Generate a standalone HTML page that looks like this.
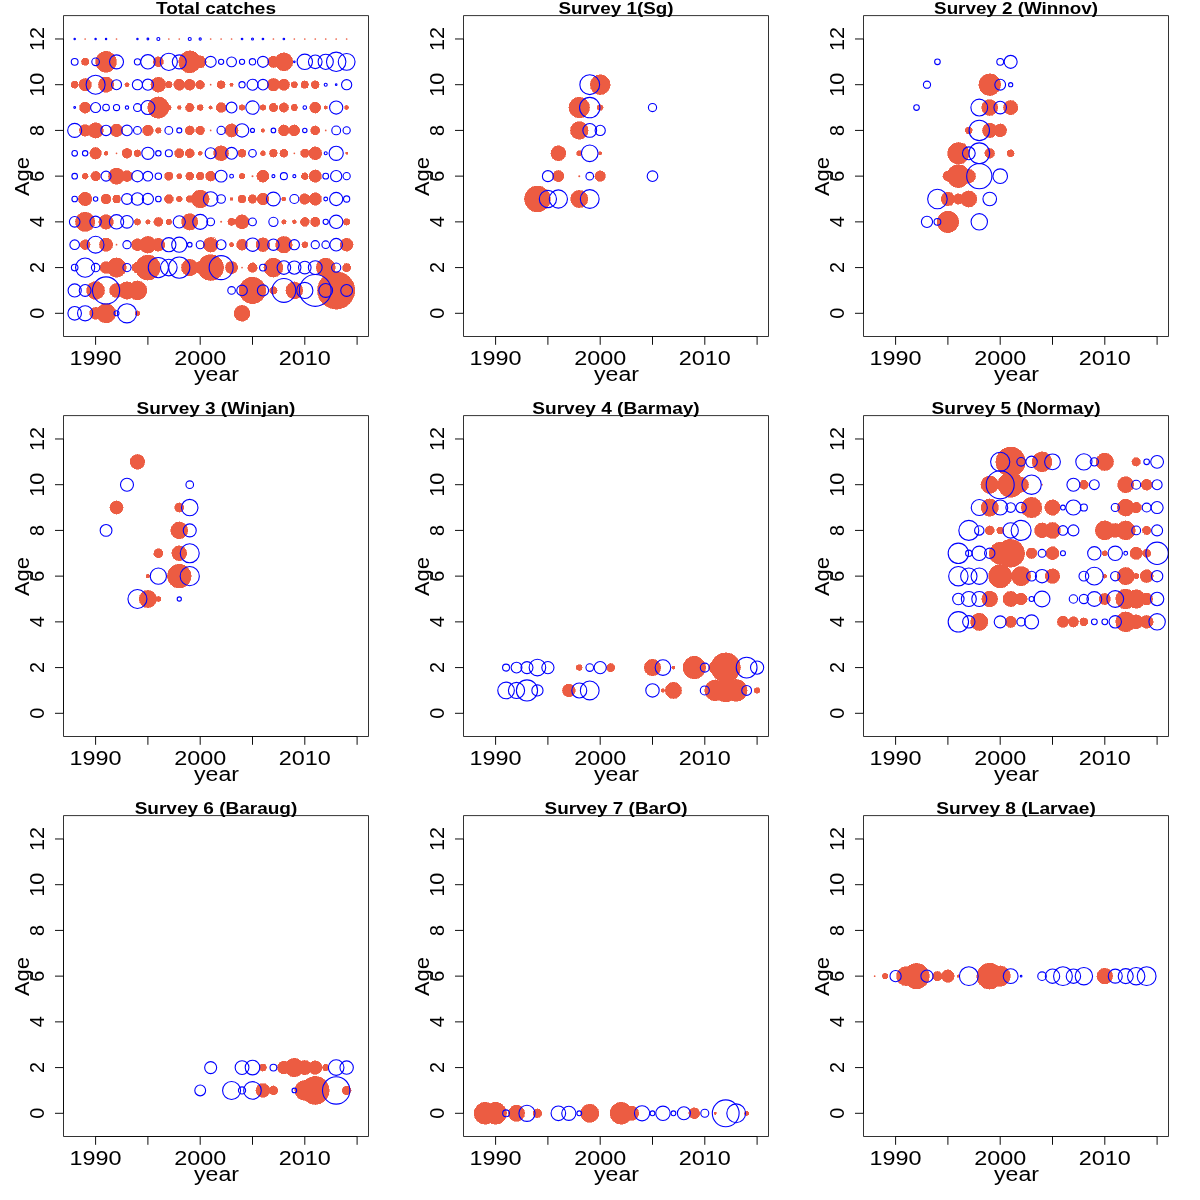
<!DOCTYPE html><html><head><meta charset="utf-8"><style>html,body{margin:0;padding:0;background:#fff;}svg{display:block;}text{font-family:"Liberation Sans",sans-serif;fill:#000;}svg{will-change:transform;}</style></head><body>
<svg width="1200" height="1200" viewBox="0 0 1200 1200">
<rect width="1200" height="1200" fill="#fff"/>
<g transform="translate(0,0)"><g fill="#EC5C42" stroke="#EC5C42" stroke-width="0.6" shape-rendering="crispEdges"><circle cx="85.14" cy="61.84" r="3.7"/><circle cx="106.06" cy="61.84" r="10.5"/><circle cx="158.36" cy="61.84" r="5"/><circle cx="189.74" cy="61.84" r="11"/><circle cx="200.2" cy="61.84" r="6"/><circle cx="273.42" cy="61.84" r="5.7"/><circle cx="283.88" cy="61.84" r="9"/><circle cx="74.68" cy="84.7" r="3.6"/><circle cx="85.14" cy="84.7" r="6.3"/><circle cx="106.06" cy="84.7" r="7.7"/><circle cx="126.98" cy="84.7" r="2.1"/><circle cx="158.36" cy="84.7" r="7.5"/><circle cx="168.82" cy="84.7" r="3.4"/><circle cx="179.28" cy="84.7" r="5.6"/><circle cx="189.74" cy="84.7" r="5.5"/><circle cx="200.2" cy="84.7" r="4.4"/><circle cx="221.12" cy="84.7" r="4"/><circle cx="231.58" cy="84.7" r="1.7"/><circle cx="273.42" cy="84.7" r="6.3"/><circle cx="283.88" cy="84.7" r="5.7"/><circle cx="294.34" cy="84.7" r="3.2"/><circle cx="304.8" cy="84.7" r="3.8"/><circle cx="315.26" cy="84.7" r="4"/><circle cx="85.14" cy="107.56" r="5.6"/><circle cx="158.36" cy="107.56" r="10.7"/><circle cx="168.82" cy="107.56" r="2.5"/><circle cx="179.28" cy="107.56" r="2"/><circle cx="189.74" cy="107.56" r="4.3"/><circle cx="200.2" cy="107.56" r="3"/><circle cx="210.66" cy="107.56" r="1.7"/><circle cx="221.12" cy="107.56" r="5"/><circle cx="242.04" cy="107.56" r="2.9"/><circle cx="262.96" cy="107.56" r="2.9"/><circle cx="273.42" cy="107.56" r="4.3"/><circle cx="283.88" cy="107.56" r="4.7"/><circle cx="294.34" cy="107.56" r="3.3"/><circle cx="315.26" cy="107.56" r="5.5"/><circle cx="325.72" cy="107.56" r="1.7"/><circle cx="346.64" cy="107.56" r="2.1"/><circle cx="85.14" cy="130.42" r="5.8"/><circle cx="95.6" cy="130.42" r="7.7"/><circle cx="116.52" cy="130.42" r="6.3"/><circle cx="147.9" cy="130.42" r="5.4"/><circle cx="158.36" cy="130.42" r="2.9"/><circle cx="189.74" cy="130.42" r="4.5"/><circle cx="200.2" cy="130.42" r="4.4"/><circle cx="231.58" cy="130.42" r="6.6"/><circle cx="262.96" cy="130.42" r="1.8"/><circle cx="283.88" cy="130.42" r="5.5"/><circle cx="294.34" cy="130.42" r="5.5"/><circle cx="315.26" cy="130.42" r="4.5"/><circle cx="95.6" cy="153.28" r="5.8"/><circle cx="106.06" cy="153.28" r="2"/><circle cx="126.98" cy="153.28" r="5"/><circle cx="137.44" cy="153.28" r="3.4"/><circle cx="179.28" cy="153.28" r="4.7"/><circle cx="189.74" cy="153.28" r="4.5"/><circle cx="200.2" cy="153.28" r="2.1"/><circle cx="221.12" cy="153.28" r="7.5"/><circle cx="242.04" cy="153.28" r="4"/><circle cx="262.96" cy="153.28" r="2.5"/><circle cx="273.42" cy="153.28" r="4"/><circle cx="283.88" cy="153.28" r="4"/><circle cx="304.8" cy="153.28" r="4.1"/><circle cx="315.26" cy="153.28" r="6.5"/><circle cx="346.64" cy="153.28" r="1.2"/><circle cx="85.14" cy="176.14" r="3"/><circle cx="95.6" cy="176.14" r="4.8"/><circle cx="116.52" cy="176.14" r="8.1"/><circle cx="126.98" cy="176.14" r="5.5"/><circle cx="168.82" cy="176.14" r="4.1"/><circle cx="179.28" cy="176.14" r="2.6"/><circle cx="189.74" cy="176.14" r="4"/><circle cx="200.2" cy="176.14" r="3.9"/><circle cx="210.66" cy="176.14" r="5"/><circle cx="242.04" cy="176.14" r="2.9"/><circle cx="262.96" cy="176.14" r="6.1"/><circle cx="304.8" cy="176.14" r="3.5"/><circle cx="315.26" cy="176.14" r="6.2"/><circle cx="85.14" cy="199" r="6.8"/><circle cx="106.06" cy="199" r="5"/><circle cx="116.52" cy="199" r="4"/><circle cx="168.82" cy="199" r="4.5"/><circle cx="179.28" cy="199" r="2.9"/><circle cx="189.74" cy="199" r="3.5"/><circle cx="200.2" cy="199" r="9"/><circle cx="231.58" cy="199" r="1.5"/><circle cx="242.04" cy="199" r="4"/><circle cx="252.5" cy="199" r="4.3"/><circle cx="262.96" cy="199" r="6"/><circle cx="283.88" cy="199" r="2.1"/><circle cx="304.8" cy="199" r="5.3"/><circle cx="315.26" cy="199" r="6.3"/><circle cx="85.14" cy="221.86" r="9.7"/><circle cx="106.06" cy="221.86" r="7.3"/><circle cx="137.44" cy="221.86" r="3.2"/><circle cx="147.9" cy="221.86" r="2.3"/><circle cx="158.36" cy="221.86" r="4.5"/><circle cx="168.82" cy="221.86" r="2.9"/><circle cx="189.74" cy="221.86" r="8.2"/><circle cx="231.58" cy="221.86" r="3.7"/><circle cx="242.04" cy="221.86" r="7"/><circle cx="283.88" cy="221.86" r="2.3"/><circle cx="294.34" cy="221.86" r="2"/><circle cx="304.8" cy="221.86" r="4.5"/><circle cx="315.26" cy="221.86" r="4.8"/><circle cx="346.64" cy="221.86" r="3.3"/><circle cx="85.14" cy="244.72" r="5"/><circle cx="106.06" cy="244.72" r="6.7"/><circle cx="137.44" cy="244.72" r="6"/><circle cx="147.9" cy="244.72" r="8.4"/><circle cx="158.36" cy="244.72" r="6.5"/><circle cx="210.66" cy="244.72" r="7.4"/><circle cx="231.58" cy="244.72" r="2.3"/><circle cx="242.04" cy="244.72" r="5.5"/><circle cx="262.96" cy="244.72" r="6.9"/><circle cx="283.88" cy="244.72" r="8.3"/><circle cx="304.8" cy="244.72" r="3"/><circle cx="346.64" cy="244.72" r="6.5"/><circle cx="106.06" cy="267.58" r="6"/><circle cx="116.52" cy="267.58" r="9.7"/><circle cx="137.44" cy="267.58" r="5.5"/><circle cx="147.9" cy="267.58" r="12.5"/><circle cx="189.74" cy="267.58" r="8.4"/><circle cx="200.2" cy="267.58" r="6"/><circle cx="210.66" cy="267.58" r="13"/><circle cx="231.58" cy="267.58" r="6.2"/><circle cx="252.5" cy="267.58" r="4.7"/><circle cx="273.42" cy="267.58" r="9.5"/><circle cx="325.72" cy="267.58" r="9.5"/><circle cx="346.64" cy="267.58" r="4.1"/><circle cx="95.6" cy="290.44" r="9"/><circle cx="116.52" cy="290.44" r="7"/><circle cx="126.98" cy="290.44" r="8.7"/><circle cx="137.44" cy="290.44" r="9.5"/><circle cx="252.5" cy="290.44" r="13.3"/><circle cx="273.42" cy="290.44" r="3.8"/><circle cx="294.34" cy="290.44" r="8.5"/><circle cx="336.18" cy="290.44" r="18.7"/><circle cx="95.6" cy="313.3" r="6"/><circle cx="106.06" cy="313.3" r="9.7"/><circle cx="137.44" cy="313.3" r="2.5"/><circle cx="242.04" cy="313.3" r="8"/></g><g fill="#EC5C42"><circle cx="85.14" cy="38.98" r="0.85"/><circle cx="116.52" cy="38.98" r="0.85"/><circle cx="168.82" cy="38.98" r="0.85"/><circle cx="179.28" cy="38.98" r="0.85"/><circle cx="210.66" cy="38.98" r="0.85"/><circle cx="221.12" cy="38.98" r="0.85"/><circle cx="231.58" cy="38.98" r="0.85"/><circle cx="273.42" cy="38.98" r="0.85"/><circle cx="294.34" cy="38.98" r="0.85"/><circle cx="304.8" cy="38.98" r="0.85"/><circle cx="315.26" cy="38.98" r="0.85"/><circle cx="325.72" cy="38.98" r="0.85"/><circle cx="336.18" cy="38.98" r="0.85"/><circle cx="346.64" cy="38.98" r="0.85"/><circle cx="210.66" cy="84.7" r="0.85"/><circle cx="210.66" cy="130.42" r="0.85"/><circle cx="325.72" cy="130.42" r="0.85"/><circle cx="116.52" cy="153.28" r="0.85"/><circle cx="294.34" cy="153.28" r="0.85"/><circle cx="252.5" cy="176.14" r="1"/><circle cx="221.12" cy="221.86" r="1"/><circle cx="116.52" cy="244.72" r="0.85"/><circle cx="242.04" cy="267.58" r="0.85"/></g><g fill="none" stroke="#0000FF" stroke-width="1.1"><circle cx="74.68" cy="38.98" r="0.7"/><circle cx="95.6" cy="38.98" r="0.7"/><circle cx="106.06" cy="38.98" r="0.7"/><circle cx="137.44" cy="38.98" r="0.7"/><circle cx="147.9" cy="38.98" r="0.9"/><circle cx="158.36" cy="38.98" r="1.5"/><circle cx="189.74" cy="38.98" r="1.5"/><circle cx="200.2" cy="38.98" r="1.1"/><circle cx="242.04" cy="38.98" r="0.8"/><circle cx="252.5" cy="38.98" r="1"/><circle cx="262.96" cy="38.98" r="0.8"/><circle cx="283.88" cy="38.98" r="0.8"/><circle cx="74.68" cy="61.84" r="3.4"/><circle cx="95.6" cy="61.84" r="3.8"/><circle cx="116.52" cy="61.84" r="7"/><circle cx="137.44" cy="61.84" r="3.1"/><circle cx="147.9" cy="61.84" r="7.2"/><circle cx="168.82" cy="61.84" r="8.6"/><circle cx="179.28" cy="61.84" r="7"/><circle cx="210.66" cy="61.84" r="5.5"/><circle cx="221.12" cy="61.84" r="2.6"/><circle cx="231.58" cy="61.84" r="4.9"/><circle cx="242.04" cy="61.84" r="2.6"/><circle cx="252.5" cy="61.84" r="3.2"/><circle cx="262.96" cy="61.84" r="5.5"/><circle cx="294.34" cy="61.84" r="0.8"/><circle cx="304.8" cy="61.84" r="7.7"/><circle cx="315.26" cy="61.84" r="6.8"/><circle cx="325.72" cy="61.84" r="7.6"/><circle cx="336.18" cy="61.84" r="9.7"/><circle cx="346.64" cy="61.84" r="8.4"/><circle cx="95.6" cy="84.7" r="9.5"/><circle cx="116.52" cy="84.7" r="5"/><circle cx="137.44" cy="84.7" r="5.1"/><circle cx="147.9" cy="84.7" r="5.6"/><circle cx="242.04" cy="84.7" r="3.1"/><circle cx="252.5" cy="84.7" r="5.5"/><circle cx="262.96" cy="84.7" r="5.3"/><circle cx="325.72" cy="84.7" r="1.5"/><circle cx="336.18" cy="84.7" r="0.8"/><circle cx="346.64" cy="84.7" r="5.1"/><circle cx="74.68" cy="107.56" r="0.9"/><circle cx="95.6" cy="107.56" r="5"/><circle cx="106.06" cy="107.56" r="3.3"/><circle cx="116.52" cy="107.56" r="3.1"/><circle cx="126.98" cy="107.56" r="1.7"/><circle cx="137.44" cy="107.56" r="3.9"/><circle cx="147.9" cy="107.56" r="7"/><circle cx="231.58" cy="107.56" r="5.4"/><circle cx="252.5" cy="107.56" r="6.7"/><circle cx="304.8" cy="107.56" r="1.8"/><circle cx="336.18" cy="107.56" r="6.6"/><circle cx="74.68" cy="130.42" r="7"/><circle cx="106.06" cy="130.42" r="5.2"/><circle cx="126.98" cy="130.42" r="5.3"/><circle cx="137.44" cy="130.42" r="3.9"/><circle cx="168.82" cy="130.42" r="3.9"/><circle cx="179.28" cy="130.42" r="2.5"/><circle cx="221.12" cy="130.42" r="4.1"/><circle cx="242.04" cy="130.42" r="6.7"/><circle cx="252.5" cy="130.42" r="2"/><circle cx="273.42" cy="130.42" r="2.3"/><circle cx="304.8" cy="130.42" r="2.2"/><circle cx="336.18" cy="130.42" r="4.4"/><circle cx="346.64" cy="130.42" r="3.6"/><circle cx="74.68" cy="153.28" r="2.8"/><circle cx="85.14" cy="153.28" r="2.7"/><circle cx="147.9" cy="153.28" r="6.1"/><circle cx="158.36" cy="153.28" r="2.7"/><circle cx="168.82" cy="153.28" r="3.5"/><circle cx="210.66" cy="153.28" r="5.5"/><circle cx="231.58" cy="153.28" r="5.9"/><circle cx="252.5" cy="153.28" r="3.8"/><circle cx="325.72" cy="153.28" r="1.5"/><circle cx="336.18" cy="153.28" r="7.1"/><circle cx="74.68" cy="176.14" r="2.8"/><circle cx="106.06" cy="176.14" r="5"/><circle cx="137.44" cy="176.14" r="5.7"/><circle cx="147.9" cy="176.14" r="4.8"/><circle cx="158.36" cy="176.14" r="3.2"/><circle cx="221.12" cy="176.14" r="5.9"/><circle cx="231.58" cy="176.14" r="1.9"/><circle cx="273.42" cy="176.14" r="1.5"/><circle cx="283.88" cy="176.14" r="3.5"/><circle cx="294.34" cy="176.14" r="1.5"/><circle cx="325.72" cy="176.14" r="2.9"/><circle cx="336.18" cy="176.14" r="5.6"/><circle cx="346.64" cy="176.14" r="3.6"/><circle cx="74.68" cy="199" r="2.8"/><circle cx="95.6" cy="199" r="2.2"/><circle cx="126.98" cy="199" r="5.4"/><circle cx="137.44" cy="199" r="6.2"/><circle cx="147.9" cy="199" r="5.6"/><circle cx="158.36" cy="199" r="2.8"/><circle cx="210.66" cy="199" r="7.3"/><circle cx="221.12" cy="199" r="4.3"/><circle cx="273.42" cy="199" r="6.9"/><circle cx="294.34" cy="199" r="4.5"/><circle cx="325.72" cy="199" r="1.9"/><circle cx="336.18" cy="199" r="6.6"/><circle cx="346.64" cy="199" r="3.1"/><circle cx="74.68" cy="221.86" r="5.3"/><circle cx="95.6" cy="221.86" r="5.7"/><circle cx="116.52" cy="221.86" r="7.2"/><circle cx="126.98" cy="221.86" r="6.3"/><circle cx="179.28" cy="221.86" r="6.1"/><circle cx="200.2" cy="221.86" r="7.5"/><circle cx="210.66" cy="221.86" r="3.9"/><circle cx="252.5" cy="221.86" r="3.9"/><circle cx="273.42" cy="221.86" r="4.6"/><circle cx="325.72" cy="221.86" r="2.6"/><circle cx="336.18" cy="221.86" r="6.7"/><circle cx="74.68" cy="244.72" r="4.8"/><circle cx="95.6" cy="244.72" r="8.4"/><circle cx="126.98" cy="244.72" r="4.1"/><circle cx="168.82" cy="244.72" r="7.1"/><circle cx="179.28" cy="244.72" r="7.6"/><circle cx="189.74" cy="244.72" r="2.3"/><circle cx="200.2" cy="244.72" r="4"/><circle cx="221.12" cy="244.72" r="4.9"/><circle cx="252.5" cy="244.72" r="6.7"/><circle cx="273.42" cy="244.72" r="5.7"/><circle cx="294.34" cy="244.72" r="5.1"/><circle cx="315.26" cy="244.72" r="4.1"/><circle cx="325.72" cy="244.72" r="3.8"/><circle cx="336.18" cy="244.72" r="6.3"/><circle cx="74.68" cy="267.58" r="3.3"/><circle cx="85.14" cy="267.58" r="9.6"/><circle cx="95.6" cy="267.58" r="4.2"/><circle cx="126.98" cy="267.58" r="4.1"/><circle cx="158.36" cy="267.58" r="10.1"/><circle cx="168.82" cy="267.58" r="8.3"/><circle cx="179.28" cy="267.58" r="10.6"/><circle cx="221.12" cy="267.58" r="12"/><circle cx="262.96" cy="267.58" r="3.4"/><circle cx="283.88" cy="267.58" r="6.8"/><circle cx="294.34" cy="267.58" r="6.6"/><circle cx="304.8" cy="267.58" r="6.3"/><circle cx="315.26" cy="267.58" r="6.9"/><circle cx="336.18" cy="267.58" r="4.6"/><circle cx="74.68" cy="290.44" r="6.6"/><circle cx="85.14" cy="290.44" r="5.9"/><circle cx="106.06" cy="290.44" r="13.6"/><circle cx="231.58" cy="290.44" r="3.8"/><circle cx="242.04" cy="290.44" r="5.3"/><circle cx="262.96" cy="290.44" r="5.6"/><circle cx="283.88" cy="290.44" r="11.9"/><circle cx="304.8" cy="290.44" r="8.1"/><circle cx="315.26" cy="290.44" r="15.9"/><circle cx="325.72" cy="290.44" r="6.9"/><circle cx="346.64" cy="290.44" r="5.9"/><circle cx="74.68" cy="313.3" r="6.8"/><circle cx="85.14" cy="313.3" r="7.6"/><circle cx="116.52" cy="313.3" r="2.5"/><circle cx="126.98" cy="313.3" r="9.6"/></g><rect x="63.5" y="15.6" width="305" height="320.9" fill="none" stroke="#000" stroke-opacity="0.8" stroke-width="1" stroke-linejoin="round"/><path d="M95.6 336.5H357.1M63.5 313.3V38.98" stroke="#000" stroke-opacity="0.8" stroke-width="1" fill="none"/><path d="M95.6 336.5V344.8M147.9 336.5V344.8M200.2 336.5V344.8M252.5 336.5V344.8M304.8 336.5V344.8M357.1 336.5V344.8M63.5 313.3H55M63.5 267.58H55M63.5 221.86H55M63.5 176.14H55M63.5 130.42H55M63.5 84.7H55M63.5 38.98H55" stroke="#000" stroke-opacity="0.94" stroke-width="1" fill="none"/><text x="95.6" y="365" font-size="20" text-anchor="middle" textLength="52" lengthAdjust="spacingAndGlyphs">1990</text><text x="200.2" y="365" font-size="20" text-anchor="middle" textLength="52" lengthAdjust="spacingAndGlyphs">2000</text><text x="304.8" y="365" font-size="20" text-anchor="middle" textLength="52" lengthAdjust="spacingAndGlyphs">2010</text><text x="216.5" y="380.7" font-size="20" text-anchor="middle" textLength="45" lengthAdjust="spacingAndGlyphs">year</text><text transform="translate(44.2,313.3) rotate(-90)" font-size="20" text-anchor="middle" textLength="11" lengthAdjust="spacingAndGlyphs">0</text><text transform="translate(44.2,267.58) rotate(-90)" font-size="20" text-anchor="middle" textLength="11" lengthAdjust="spacingAndGlyphs">2</text><text transform="translate(44.2,221.86) rotate(-90)" font-size="20" text-anchor="middle" textLength="11" lengthAdjust="spacingAndGlyphs">4</text><text transform="translate(44.2,176.14) rotate(-90)" font-size="20" text-anchor="middle" textLength="11" lengthAdjust="spacingAndGlyphs">6</text><text transform="translate(44.2,130.42) rotate(-90)" font-size="20" text-anchor="middle" textLength="11" lengthAdjust="spacingAndGlyphs">8</text><text transform="translate(44.2,84.7) rotate(-90)" font-size="20" text-anchor="middle" textLength="24" lengthAdjust="spacingAndGlyphs">10</text><text transform="translate(44.2,38.98) rotate(-90)" font-size="20" text-anchor="middle" textLength="24" lengthAdjust="spacingAndGlyphs">12</text><text transform="translate(28.9,176.6) rotate(-90)" font-size="20" text-anchor="middle" textLength="39" lengthAdjust="spacingAndGlyphs">Age</text><text x="216" y="13.5" font-size="16" font-weight="bold" text-anchor="middle" textLength="120" lengthAdjust="spacingAndGlyphs">Total catches</text></g>
<g transform="translate(400,0)"><g fill="#EC5C42" stroke="#EC5C42" stroke-width="0.6" shape-rendering="crispEdges"><circle cx="200.2" cy="84.7" r="10"/><circle cx="179.28" cy="107.56" r="10.4"/><circle cx="200.2" cy="107.56" r="2.9"/><circle cx="179.28" cy="130.42" r="8.9"/><circle cx="158.36" cy="153.28" r="7.5"/><circle cx="179.28" cy="153.28" r="2.7"/><circle cx="200.2" cy="153.28" r="1.7"/><circle cx="158.36" cy="176.14" r="5.7"/><circle cx="200.2" cy="176.14" r="5.3"/><circle cx="137.44" cy="199" r="13"/><circle cx="179.28" cy="199" r="8.7"/></g><g fill="#EC5C42"><circle cx="179.28" cy="176.14" r="1"/></g><g fill="none" stroke="#0000FF" stroke-width="1.1"><circle cx="189.74" cy="84.7" r="9.9"/><circle cx="189.74" cy="107.56" r="10.2"/><circle cx="252.5" cy="107.56" r="4.1"/><circle cx="189.74" cy="130.42" r="6.9"/><circle cx="200.2" cy="130.42" r="5.1"/><circle cx="189.74" cy="153.28" r="8.3"/><circle cx="147.9" cy="176.14" r="5.5"/><circle cx="189.74" cy="176.14" r="3.8"/><circle cx="252.5" cy="176.14" r="5.3"/><circle cx="147.9" cy="199" r="8.6"/><circle cx="158.36" cy="199" r="9.1"/><circle cx="189.74" cy="199" r="9.4"/></g><rect x="63.5" y="15.6" width="305" height="320.9" fill="none" stroke="#000" stroke-opacity="0.8" stroke-width="1" stroke-linejoin="round"/><path d="M95.6 336.5H357.1M63.5 313.3V38.98" stroke="#000" stroke-opacity="0.8" stroke-width="1" fill="none"/><path d="M95.6 336.5V344.8M147.9 336.5V344.8M200.2 336.5V344.8M252.5 336.5V344.8M304.8 336.5V344.8M357.1 336.5V344.8M63.5 313.3H55M63.5 267.58H55M63.5 221.86H55M63.5 176.14H55M63.5 130.42H55M63.5 84.7H55M63.5 38.98H55" stroke="#000" stroke-opacity="0.94" stroke-width="1" fill="none"/><text x="95.6" y="365" font-size="20" text-anchor="middle" textLength="52" lengthAdjust="spacingAndGlyphs">1990</text><text x="200.2" y="365" font-size="20" text-anchor="middle" textLength="52" lengthAdjust="spacingAndGlyphs">2000</text><text x="304.8" y="365" font-size="20" text-anchor="middle" textLength="52" lengthAdjust="spacingAndGlyphs">2010</text><text x="216.5" y="380.7" font-size="20" text-anchor="middle" textLength="45" lengthAdjust="spacingAndGlyphs">year</text><text transform="translate(44.2,313.3) rotate(-90)" font-size="20" text-anchor="middle" textLength="11" lengthAdjust="spacingAndGlyphs">0</text><text transform="translate(44.2,267.58) rotate(-90)" font-size="20" text-anchor="middle" textLength="11" lengthAdjust="spacingAndGlyphs">2</text><text transform="translate(44.2,221.86) rotate(-90)" font-size="20" text-anchor="middle" textLength="11" lengthAdjust="spacingAndGlyphs">4</text><text transform="translate(44.2,176.14) rotate(-90)" font-size="20" text-anchor="middle" textLength="11" lengthAdjust="spacingAndGlyphs">6</text><text transform="translate(44.2,130.42) rotate(-90)" font-size="20" text-anchor="middle" textLength="11" lengthAdjust="spacingAndGlyphs">8</text><text transform="translate(44.2,84.7) rotate(-90)" font-size="20" text-anchor="middle" textLength="24" lengthAdjust="spacingAndGlyphs">10</text><text transform="translate(44.2,38.98) rotate(-90)" font-size="20" text-anchor="middle" textLength="24" lengthAdjust="spacingAndGlyphs">12</text><text transform="translate(28.9,176.6) rotate(-90)" font-size="20" text-anchor="middle" textLength="39" lengthAdjust="spacingAndGlyphs">Age</text><text x="216" y="13.5" font-size="16" font-weight="bold" text-anchor="middle" textLength="115" lengthAdjust="spacingAndGlyphs">Survey 1(Sg)</text></g>
<g transform="translate(800,0)"><g fill="#EC5C42" stroke="#EC5C42" stroke-width="0.6" shape-rendering="crispEdges"><circle cx="189.74" cy="84.7" r="10.9"/><circle cx="189.74" cy="107.56" r="8"/><circle cx="210.66" cy="107.56" r="7.2"/><circle cx="168.82" cy="130.42" r="3.5"/><circle cx="189.74" cy="130.42" r="7.3"/><circle cx="200.2" cy="130.42" r="6.5"/><circle cx="158.36" cy="153.28" r="10.8"/><circle cx="189.74" cy="153.28" r="4.9"/><circle cx="210.66" cy="153.28" r="3.6"/><circle cx="147.9" cy="176.14" r="5"/><circle cx="158.36" cy="176.14" r="11.5"/><circle cx="168.82" cy="176.14" r="6.8"/><circle cx="147.9" cy="199" r="6.8"/><circle cx="158.36" cy="199" r="5.2"/><circle cx="168.82" cy="199" r="8.1"/><circle cx="147.9" cy="221.86" r="10.8"/></g><g fill="#EC5C42"></g><g fill="none" stroke="#0000FF" stroke-width="1.1"><circle cx="137.44" cy="61.84" r="2.8"/><circle cx="200.2" cy="61.84" r="3.4"/><circle cx="210.66" cy="61.84" r="6.5"/><circle cx="126.98" cy="84.7" r="3.6"/><circle cx="200.2" cy="84.7" r="5.4"/><circle cx="210.66" cy="84.7" r="2.1"/><circle cx="116.52" cy="107.56" r="2.8"/><circle cx="179.28" cy="107.56" r="8.4"/><circle cx="200.2" cy="107.56" r="6.3"/><circle cx="179.28" cy="130.42" r="10.2"/><circle cx="168.82" cy="153.28" r="6.4"/><circle cx="179.28" cy="153.28" r="10.4"/><circle cx="179.28" cy="176.14" r="12.6"/><circle cx="200.2" cy="176.14" r="7.3"/><circle cx="137.44" cy="199" r="9.8"/><circle cx="189.74" cy="199" r="6.8"/><circle cx="126.98" cy="221.86" r="5.6"/><circle cx="137.44" cy="221.86" r="3.4"/><circle cx="179.28" cy="221.86" r="8.2"/></g><rect x="63.5" y="15.6" width="305" height="320.9" fill="none" stroke="#000" stroke-opacity="0.8" stroke-width="1" stroke-linejoin="round"/><path d="M95.6 336.5H357.1M63.5 313.3V38.98" stroke="#000" stroke-opacity="0.8" stroke-width="1" fill="none"/><path d="M95.6 336.5V344.8M147.9 336.5V344.8M200.2 336.5V344.8M252.5 336.5V344.8M304.8 336.5V344.8M357.1 336.5V344.8M63.5 313.3H55M63.5 267.58H55M63.5 221.86H55M63.5 176.14H55M63.5 130.42H55M63.5 84.7H55M63.5 38.98H55" stroke="#000" stroke-opacity="0.94" stroke-width="1" fill="none"/><text x="95.6" y="365" font-size="20" text-anchor="middle" textLength="52" lengthAdjust="spacingAndGlyphs">1990</text><text x="200.2" y="365" font-size="20" text-anchor="middle" textLength="52" lengthAdjust="spacingAndGlyphs">2000</text><text x="304.8" y="365" font-size="20" text-anchor="middle" textLength="52" lengthAdjust="spacingAndGlyphs">2010</text><text x="216.5" y="380.7" font-size="20" text-anchor="middle" textLength="45" lengthAdjust="spacingAndGlyphs">year</text><text transform="translate(44.2,313.3) rotate(-90)" font-size="20" text-anchor="middle" textLength="11" lengthAdjust="spacingAndGlyphs">0</text><text transform="translate(44.2,267.58) rotate(-90)" font-size="20" text-anchor="middle" textLength="11" lengthAdjust="spacingAndGlyphs">2</text><text transform="translate(44.2,221.86) rotate(-90)" font-size="20" text-anchor="middle" textLength="11" lengthAdjust="spacingAndGlyphs">4</text><text transform="translate(44.2,176.14) rotate(-90)" font-size="20" text-anchor="middle" textLength="11" lengthAdjust="spacingAndGlyphs">6</text><text transform="translate(44.2,130.42) rotate(-90)" font-size="20" text-anchor="middle" textLength="11" lengthAdjust="spacingAndGlyphs">8</text><text transform="translate(44.2,84.7) rotate(-90)" font-size="20" text-anchor="middle" textLength="24" lengthAdjust="spacingAndGlyphs">10</text><text transform="translate(44.2,38.98) rotate(-90)" font-size="20" text-anchor="middle" textLength="24" lengthAdjust="spacingAndGlyphs">12</text><text transform="translate(28.9,176.6) rotate(-90)" font-size="20" text-anchor="middle" textLength="39" lengthAdjust="spacingAndGlyphs">Age</text><text x="216" y="13.5" font-size="16" font-weight="bold" text-anchor="middle" textLength="163.8" lengthAdjust="spacingAndGlyphs">Survey 2 (Winnov)</text></g>
<g transform="translate(0,400)"><g fill="#EC5C42" stroke="#EC5C42" stroke-width="0.6" shape-rendering="crispEdges"><circle cx="137.44" cy="61.84" r="7.4"/><circle cx="116.52" cy="107.56" r="6.6"/><circle cx="179.28" cy="107.56" r="4.6"/><circle cx="179.28" cy="130.42" r="8.5"/><circle cx="158.36" cy="153.28" r="4.6"/><circle cx="179.28" cy="153.28" r="7.5"/><circle cx="147.9" cy="176.14" r="2"/><circle cx="179.28" cy="176.14" r="11.9"/><circle cx="147.9" cy="199" r="8.7"/><circle cx="158.36" cy="199" r="2.6"/></g><g fill="#EC5C42"></g><g fill="none" stroke="#0000FF" stroke-width="1.1"><circle cx="126.98" cy="84.7" r="6.5"/><circle cx="189.74" cy="84.7" r="3.8"/><circle cx="189.74" cy="107.56" r="8.2"/><circle cx="106.06" cy="130.42" r="5.9"/><circle cx="189.74" cy="130.42" r="6.5"/><circle cx="189.74" cy="153.28" r="9.5"/><circle cx="158.36" cy="176.14" r="8.1"/><circle cx="189.74" cy="176.14" r="9.6"/><circle cx="137.44" cy="199" r="9.5"/><circle cx="179.28" cy="199" r="2.1"/></g><rect x="63.5" y="15.6" width="305" height="320.9" fill="none" stroke="#000" stroke-opacity="0.8" stroke-width="1" stroke-linejoin="round"/><path d="M95.6 336.5H357.1M63.5 313.3V38.98" stroke="#000" stroke-opacity="0.8" stroke-width="1" fill="none"/><path d="M95.6 336.5V344.8M147.9 336.5V344.8M200.2 336.5V344.8M252.5 336.5V344.8M304.8 336.5V344.8M357.1 336.5V344.8M63.5 313.3H55M63.5 267.58H55M63.5 221.86H55M63.5 176.14H55M63.5 130.42H55M63.5 84.7H55M63.5 38.98H55" stroke="#000" stroke-opacity="0.94" stroke-width="1" fill="none"/><text x="95.6" y="365" font-size="20" text-anchor="middle" textLength="52" lengthAdjust="spacingAndGlyphs">1990</text><text x="200.2" y="365" font-size="20" text-anchor="middle" textLength="52" lengthAdjust="spacingAndGlyphs">2000</text><text x="304.8" y="365" font-size="20" text-anchor="middle" textLength="52" lengthAdjust="spacingAndGlyphs">2010</text><text x="216.5" y="380.7" font-size="20" text-anchor="middle" textLength="45" lengthAdjust="spacingAndGlyphs">year</text><text transform="translate(44.2,313.3) rotate(-90)" font-size="20" text-anchor="middle" textLength="11" lengthAdjust="spacingAndGlyphs">0</text><text transform="translate(44.2,267.58) rotate(-90)" font-size="20" text-anchor="middle" textLength="11" lengthAdjust="spacingAndGlyphs">2</text><text transform="translate(44.2,221.86) rotate(-90)" font-size="20" text-anchor="middle" textLength="11" lengthAdjust="spacingAndGlyphs">4</text><text transform="translate(44.2,176.14) rotate(-90)" font-size="20" text-anchor="middle" textLength="11" lengthAdjust="spacingAndGlyphs">6</text><text transform="translate(44.2,130.42) rotate(-90)" font-size="20" text-anchor="middle" textLength="11" lengthAdjust="spacingAndGlyphs">8</text><text transform="translate(44.2,84.7) rotate(-90)" font-size="20" text-anchor="middle" textLength="24" lengthAdjust="spacingAndGlyphs">10</text><text transform="translate(44.2,38.98) rotate(-90)" font-size="20" text-anchor="middle" textLength="24" lengthAdjust="spacingAndGlyphs">12</text><text transform="translate(28.9,176.6) rotate(-90)" font-size="20" text-anchor="middle" textLength="39" lengthAdjust="spacingAndGlyphs">Age</text><text x="216" y="13.5" font-size="16" font-weight="bold" text-anchor="middle" textLength="158.8" lengthAdjust="spacingAndGlyphs">Survey 3 (Winjan)</text></g>
<g transform="translate(400,400)"><g fill="#EC5C42" stroke="#EC5C42" stroke-width="0.6" shape-rendering="crispEdges"><circle cx="179.28" cy="267.58" r="3"/><circle cx="210.66" cy="267.58" r="4.2"/><circle cx="252.5" cy="267.58" r="8.3"/><circle cx="273.42" cy="267.58" r="1.5"/><circle cx="294.34" cy="267.58" r="11.3"/><circle cx="315.26" cy="267.58" r="6.5"/><circle cx="325.72" cy="267.58" r="14.8"/><circle cx="168.82" cy="290.44" r="6.4"/><circle cx="262.96" cy="290.44" r="1.8"/><circle cx="273.42" cy="290.44" r="8.2"/><circle cx="315.26" cy="290.44" r="10.5"/><circle cx="325.72" cy="290.44" r="11.5"/><circle cx="336.18" cy="290.44" r="11"/><circle cx="357.1" cy="290.44" r="2.9"/></g><g fill="#EC5C42"></g><g fill="none" stroke="#0000FF" stroke-width="1.1"><circle cx="106.06" cy="267.58" r="3.5"/><circle cx="116.52" cy="267.58" r="5.4"/><circle cx="126.98" cy="267.58" r="6"/><circle cx="137.44" cy="267.58" r="8.3"/><circle cx="147.9" cy="267.58" r="6.1"/><circle cx="189.74" cy="267.58" r="3.8"/><circle cx="200.2" cy="267.58" r="6.1"/><circle cx="262.96" cy="267.58" r="7.8"/><circle cx="304.8" cy="267.58" r="4.5"/><circle cx="346.64" cy="267.58" r="10.4"/><circle cx="357.1" cy="267.58" r="6.6"/><circle cx="106.06" cy="290.44" r="8.3"/><circle cx="116.52" cy="290.44" r="8.1"/><circle cx="126.98" cy="290.44" r="10.6"/><circle cx="137.44" cy="290.44" r="5.6"/><circle cx="179.28" cy="290.44" r="7.5"/><circle cx="189.74" cy="290.44" r="9.4"/><circle cx="252.5" cy="290.44" r="6.7"/><circle cx="304.8" cy="290.44" r="4.5"/><circle cx="346.64" cy="290.44" r="4.9"/></g><rect x="63.5" y="15.6" width="305" height="320.9" fill="none" stroke="#000" stroke-opacity="0.8" stroke-width="1" stroke-linejoin="round"/><path d="M95.6 336.5H357.1M63.5 313.3V38.98" stroke="#000" stroke-opacity="0.8" stroke-width="1" fill="none"/><path d="M95.6 336.5V344.8M147.9 336.5V344.8M200.2 336.5V344.8M252.5 336.5V344.8M304.8 336.5V344.8M357.1 336.5V344.8M63.5 313.3H55M63.5 267.58H55M63.5 221.86H55M63.5 176.14H55M63.5 130.42H55M63.5 84.7H55M63.5 38.98H55" stroke="#000" stroke-opacity="0.94" stroke-width="1" fill="none"/><text x="95.6" y="365" font-size="20" text-anchor="middle" textLength="52" lengthAdjust="spacingAndGlyphs">1990</text><text x="200.2" y="365" font-size="20" text-anchor="middle" textLength="52" lengthAdjust="spacingAndGlyphs">2000</text><text x="304.8" y="365" font-size="20" text-anchor="middle" textLength="52" lengthAdjust="spacingAndGlyphs">2010</text><text x="216.5" y="380.7" font-size="20" text-anchor="middle" textLength="45" lengthAdjust="spacingAndGlyphs">year</text><text transform="translate(44.2,313.3) rotate(-90)" font-size="20" text-anchor="middle" textLength="11" lengthAdjust="spacingAndGlyphs">0</text><text transform="translate(44.2,267.58) rotate(-90)" font-size="20" text-anchor="middle" textLength="11" lengthAdjust="spacingAndGlyphs">2</text><text transform="translate(44.2,221.86) rotate(-90)" font-size="20" text-anchor="middle" textLength="11" lengthAdjust="spacingAndGlyphs">4</text><text transform="translate(44.2,176.14) rotate(-90)" font-size="20" text-anchor="middle" textLength="11" lengthAdjust="spacingAndGlyphs">6</text><text transform="translate(44.2,130.42) rotate(-90)" font-size="20" text-anchor="middle" textLength="11" lengthAdjust="spacingAndGlyphs">8</text><text transform="translate(44.2,84.7) rotate(-90)" font-size="20" text-anchor="middle" textLength="24" lengthAdjust="spacingAndGlyphs">10</text><text transform="translate(44.2,38.98) rotate(-90)" font-size="20" text-anchor="middle" textLength="24" lengthAdjust="spacingAndGlyphs">12</text><text transform="translate(28.9,176.6) rotate(-90)" font-size="20" text-anchor="middle" textLength="39" lengthAdjust="spacingAndGlyphs">Age</text><text x="216" y="13.5" font-size="16" font-weight="bold" text-anchor="middle" textLength="167.4" lengthAdjust="spacingAndGlyphs">Survey 4 (Barmay)</text></g>
<g transform="translate(800,400)"><g fill="#EC5C42" stroke="#EC5C42" stroke-width="0.6" shape-rendering="crispEdges"><circle cx="210.66" cy="61.84" r="14.8"/><circle cx="242.04" cy="61.84" r="10"/><circle cx="304.8" cy="61.84" r="8.8"/><circle cx="336.18" cy="61.84" r="4.3"/><circle cx="189.74" cy="84.7" r="8.8"/><circle cx="210.66" cy="84.7" r="12.8"/><circle cx="221.12" cy="84.7" r="7.5"/><circle cx="283.88" cy="84.7" r="4.5"/><circle cx="325.72" cy="84.7" r="8.1"/><circle cx="346.64" cy="84.7" r="5.5"/><circle cx="189.74" cy="107.56" r="8.7"/><circle cx="231.58" cy="107.56" r="10.3"/><circle cx="252.5" cy="107.56" r="7.7"/><circle cx="325.72" cy="107.56" r="8.5"/><circle cx="336.18" cy="107.56" r="5.3"/><circle cx="189.74" cy="130.42" r="4.5"/><circle cx="200.2" cy="130.42" r="3.5"/><circle cx="242.04" cy="130.42" r="7.5"/><circle cx="252.5" cy="130.42" r="8"/><circle cx="304.8" cy="130.42" r="9.6"/><circle cx="315.26" cy="130.42" r="7"/><circle cx="325.72" cy="130.42" r="9.5"/><circle cx="346.64" cy="130.42" r="4.3"/><circle cx="200.2" cy="153.28" r="11"/><circle cx="210.66" cy="153.28" r="14"/><circle cx="231.58" cy="153.28" r="5.4"/><circle cx="252.5" cy="153.28" r="6.5"/><circle cx="304.8" cy="153.28" r="2.7"/><circle cx="336.18" cy="153.28" r="6.2"/><circle cx="346.64" cy="153.28" r="4.2"/><circle cx="200.2" cy="176.14" r="11.7"/><circle cx="221.12" cy="176.14" r="9.7"/><circle cx="252.5" cy="176.14" r="7.3"/><circle cx="304.8" cy="176.14" r="2"/><circle cx="325.72" cy="176.14" r="8.7"/><circle cx="336.18" cy="176.14" r="2.8"/><circle cx="346.64" cy="176.14" r="6.5"/><circle cx="189.74" cy="199" r="8"/><circle cx="210.66" cy="199" r="7.7"/><circle cx="221.12" cy="199" r="6"/><circle cx="304.8" cy="199" r="5.7"/><circle cx="325.72" cy="199" r="10"/><circle cx="336.18" cy="199" r="9.3"/><circle cx="346.64" cy="199" r="6"/><circle cx="179.28" cy="221.86" r="8.7"/><circle cx="210.66" cy="221.86" r="5.7"/><circle cx="262.96" cy="221.86" r="5.7"/><circle cx="273.42" cy="221.86" r="5.2"/><circle cx="283.88" cy="221.86" r="4"/><circle cx="325.72" cy="221.86" r="10"/><circle cx="336.18" cy="221.86" r="7"/><circle cx="346.64" cy="221.86" r="6.5"/></g><g fill="#EC5C42"><circle cx="242.04" cy="84.7" r="0.85"/></g><g fill="none" stroke="#0000FF" stroke-width="1.1"><circle cx="200.2" cy="61.84" r="9.6"/><circle cx="221.12" cy="61.84" r="4.3"/><circle cx="231.58" cy="61.84" r="5.7"/><circle cx="252.5" cy="61.84" r="7.9"/><circle cx="283.88" cy="61.84" r="8.1"/><circle cx="294.34" cy="61.84" r="4.1"/><circle cx="346.64" cy="61.84" r="2.8"/><circle cx="357.1" cy="61.84" r="6.4"/><circle cx="200.2" cy="84.7" r="14"/><circle cx="231.58" cy="84.7" r="9.7"/><circle cx="273.42" cy="84.7" r="6.5"/><circle cx="294.34" cy="84.7" r="4.9"/><circle cx="336.18" cy="84.7" r="4.5"/><circle cx="357.1" cy="84.7" r="5"/><circle cx="179.28" cy="107.56" r="8"/><circle cx="200.2" cy="107.56" r="7.5"/><circle cx="210.66" cy="107.56" r="4.8"/><circle cx="221.12" cy="107.56" r="5.2"/><circle cx="262.96" cy="107.56" r="2.4"/><circle cx="273.42" cy="107.56" r="7.5"/><circle cx="283.88" cy="107.56" r="3.5"/><circle cx="315.26" cy="107.56" r="4"/><circle cx="346.64" cy="107.56" r="4.4"/><circle cx="357.1" cy="107.56" r="6"/><circle cx="168.82" cy="130.42" r="10"/><circle cx="179.28" cy="130.42" r="4.7"/><circle cx="210.66" cy="130.42" r="7.7"/><circle cx="221.12" cy="130.42" r="10"/><circle cx="262.96" cy="130.42" r="4.8"/><circle cx="273.42" cy="130.42" r="5.5"/><circle cx="336.18" cy="130.42" r="4.4"/><circle cx="357.1" cy="130.42" r="5.5"/><circle cx="158.36" cy="153.28" r="10.2"/><circle cx="168.82" cy="153.28" r="3.2"/><circle cx="179.28" cy="153.28" r="7.2"/><circle cx="189.74" cy="153.28" r="5.2"/><circle cx="242.04" cy="153.28" r="3.9"/><circle cx="262.96" cy="153.28" r="2.5"/><circle cx="294.34" cy="153.28" r="6.7"/><circle cx="315.26" cy="153.28" r="7.2"/><circle cx="325.72" cy="153.28" r="1.9"/><circle cx="357.1" cy="153.28" r="11.2"/><circle cx="158.36" cy="176.14" r="9.7"/><circle cx="168.82" cy="176.14" r="8.2"/><circle cx="179.28" cy="176.14" r="8.2"/><circle cx="231.58" cy="176.14" r="4.9"/><circle cx="242.04" cy="176.14" r="6.7"/><circle cx="283.88" cy="176.14" r="4.9"/><circle cx="294.34" cy="176.14" r="8.9"/><circle cx="315.26" cy="176.14" r="4.7"/><circle cx="357.1" cy="176.14" r="5.7"/><circle cx="158.36" cy="199" r="5.7"/><circle cx="168.82" cy="199" r="7.5"/><circle cx="179.28" cy="199" r="7.5"/><circle cx="231.58" cy="199" r="2.5"/><circle cx="242.04" cy="199" r="7.9"/><circle cx="273.42" cy="199" r="4.2"/><circle cx="283.88" cy="199" r="4.6"/><circle cx="294.34" cy="199" r="7.4"/><circle cx="315.26" cy="199" r="8.4"/><circle cx="357.1" cy="199" r="6.7"/><circle cx="158.36" cy="221.86" r="10.2"/><circle cx="168.82" cy="221.86" r="6.2"/><circle cx="200.2" cy="221.86" r="6"/><circle cx="221.12" cy="221.86" r="4.2"/><circle cx="231.58" cy="221.86" r="7"/><circle cx="294.34" cy="221.86" r="2.9"/><circle cx="304.8" cy="221.86" r="2.9"/><circle cx="315.26" cy="221.86" r="6.2"/><circle cx="357.1" cy="221.86" r="8.2"/></g><rect x="63.5" y="15.6" width="305" height="320.9" fill="none" stroke="#000" stroke-opacity="0.8" stroke-width="1" stroke-linejoin="round"/><path d="M95.6 336.5H357.1M63.5 313.3V38.98" stroke="#000" stroke-opacity="0.8" stroke-width="1" fill="none"/><path d="M95.6 336.5V344.8M147.9 336.5V344.8M200.2 336.5V344.8M252.5 336.5V344.8M304.8 336.5V344.8M357.1 336.5V344.8M63.5 313.3H55M63.5 267.58H55M63.5 221.86H55M63.5 176.14H55M63.5 130.42H55M63.5 84.7H55M63.5 38.98H55" stroke="#000" stroke-opacity="0.94" stroke-width="1" fill="none"/><text x="95.6" y="365" font-size="20" text-anchor="middle" textLength="52" lengthAdjust="spacingAndGlyphs">1990</text><text x="200.2" y="365" font-size="20" text-anchor="middle" textLength="52" lengthAdjust="spacingAndGlyphs">2000</text><text x="304.8" y="365" font-size="20" text-anchor="middle" textLength="52" lengthAdjust="spacingAndGlyphs">2010</text><text x="216.5" y="380.7" font-size="20" text-anchor="middle" textLength="45" lengthAdjust="spacingAndGlyphs">year</text><text transform="translate(44.2,313.3) rotate(-90)" font-size="20" text-anchor="middle" textLength="11" lengthAdjust="spacingAndGlyphs">0</text><text transform="translate(44.2,267.58) rotate(-90)" font-size="20" text-anchor="middle" textLength="11" lengthAdjust="spacingAndGlyphs">2</text><text transform="translate(44.2,221.86) rotate(-90)" font-size="20" text-anchor="middle" textLength="11" lengthAdjust="spacingAndGlyphs">4</text><text transform="translate(44.2,176.14) rotate(-90)" font-size="20" text-anchor="middle" textLength="11" lengthAdjust="spacingAndGlyphs">6</text><text transform="translate(44.2,130.42) rotate(-90)" font-size="20" text-anchor="middle" textLength="11" lengthAdjust="spacingAndGlyphs">8</text><text transform="translate(44.2,84.7) rotate(-90)" font-size="20" text-anchor="middle" textLength="24" lengthAdjust="spacingAndGlyphs">10</text><text transform="translate(44.2,38.98) rotate(-90)" font-size="20" text-anchor="middle" textLength="24" lengthAdjust="spacingAndGlyphs">12</text><text transform="translate(28.9,176.6) rotate(-90)" font-size="20" text-anchor="middle" textLength="39" lengthAdjust="spacingAndGlyphs">Age</text><text x="216" y="13.5" font-size="16" font-weight="bold" text-anchor="middle" textLength="169" lengthAdjust="spacingAndGlyphs">Survey 5 (Normay)</text></g>
<g transform="translate(0,800)"><g fill="#EC5C42" stroke="#EC5C42" stroke-width="0.6" shape-rendering="crispEdges"><circle cx="262.96" cy="267.58" r="3.6"/><circle cx="283.88" cy="267.58" r="6.4"/><circle cx="294.34" cy="267.58" r="9.3"/><circle cx="304.8" cy="267.58" r="7.2"/><circle cx="315.26" cy="267.58" r="6.8"/><circle cx="325.72" cy="267.58" r="3.3"/><circle cx="262.96" cy="290.44" r="7"/><circle cx="273.42" cy="290.44" r="4.5"/><circle cx="304.8" cy="290.44" r="10"/><circle cx="315.26" cy="290.44" r="14.1"/><circle cx="346.64" cy="290.44" r="4.4"/></g><g fill="#EC5C42"></g><g fill="none" stroke="#0000FF" stroke-width="1.1"><circle cx="210.66" cy="267.58" r="6"/><circle cx="242.04" cy="267.58" r="6.9"/><circle cx="252.5" cy="267.58" r="7.3"/><circle cx="273.42" cy="267.58" r="3.4"/><circle cx="336.18" cy="267.58" r="7.8"/><circle cx="346.64" cy="267.58" r="6.7"/><circle cx="200.2" cy="290.44" r="5.4"/><circle cx="231.58" cy="290.44" r="9"/><circle cx="242.04" cy="290.44" r="3.6"/><circle cx="252.5" cy="290.44" r="8.8"/><circle cx="294.34" cy="290.44" r="2.3"/><circle cx="336.18" cy="290.44" r="13.7"/></g><rect x="63.5" y="15.6" width="305" height="320.9" fill="none" stroke="#000" stroke-opacity="0.8" stroke-width="1" stroke-linejoin="round"/><path d="M95.6 336.5H357.1M63.5 313.3V38.98" stroke="#000" stroke-opacity="0.8" stroke-width="1" fill="none"/><path d="M95.6 336.5V344.8M147.9 336.5V344.8M200.2 336.5V344.8M252.5 336.5V344.8M304.8 336.5V344.8M357.1 336.5V344.8M63.5 313.3H55M63.5 267.58H55M63.5 221.86H55M63.5 176.14H55M63.5 130.42H55M63.5 84.7H55M63.5 38.98H55" stroke="#000" stroke-opacity="0.94" stroke-width="1" fill="none"/><text x="95.6" y="365" font-size="20" text-anchor="middle" textLength="52" lengthAdjust="spacingAndGlyphs">1990</text><text x="200.2" y="365" font-size="20" text-anchor="middle" textLength="52" lengthAdjust="spacingAndGlyphs">2000</text><text x="304.8" y="365" font-size="20" text-anchor="middle" textLength="52" lengthAdjust="spacingAndGlyphs">2010</text><text x="216.5" y="380.7" font-size="20" text-anchor="middle" textLength="45" lengthAdjust="spacingAndGlyphs">year</text><text transform="translate(44.2,313.3) rotate(-90)" font-size="20" text-anchor="middle" textLength="11" lengthAdjust="spacingAndGlyphs">0</text><text transform="translate(44.2,267.58) rotate(-90)" font-size="20" text-anchor="middle" textLength="11" lengthAdjust="spacingAndGlyphs">2</text><text transform="translate(44.2,221.86) rotate(-90)" font-size="20" text-anchor="middle" textLength="11" lengthAdjust="spacingAndGlyphs">4</text><text transform="translate(44.2,176.14) rotate(-90)" font-size="20" text-anchor="middle" textLength="11" lengthAdjust="spacingAndGlyphs">6</text><text transform="translate(44.2,130.42) rotate(-90)" font-size="20" text-anchor="middle" textLength="11" lengthAdjust="spacingAndGlyphs">8</text><text transform="translate(44.2,84.7) rotate(-90)" font-size="20" text-anchor="middle" textLength="24" lengthAdjust="spacingAndGlyphs">10</text><text transform="translate(44.2,38.98) rotate(-90)" font-size="20" text-anchor="middle" textLength="24" lengthAdjust="spacingAndGlyphs">12</text><text transform="translate(28.9,176.6) rotate(-90)" font-size="20" text-anchor="middle" textLength="39" lengthAdjust="spacingAndGlyphs">Age</text><text x="216" y="13.5" font-size="16" font-weight="bold" text-anchor="middle" textLength="162.6" lengthAdjust="spacingAndGlyphs">Survey 6 (Baraug)</text></g>
<g transform="translate(400,800)"><g fill="#EC5C42" stroke="#EC5C42" stroke-width="0.6" shape-rendering="crispEdges"><circle cx="85.14" cy="313.3" r="11"/><circle cx="95.6" cy="313.3" r="11"/><circle cx="116.52" cy="313.3" r="8.2"/><circle cx="137.44" cy="313.3" r="4.4"/><circle cx="189.74" cy="313.3" r="9.2"/><circle cx="221.12" cy="313.3" r="11"/><circle cx="231.58" cy="313.3" r="7.2"/><circle cx="294.34" cy="313.3" r="5.5"/><circle cx="315.26" cy="313.3" r="1.3"/><circle cx="346.64" cy="313.3" r="2.3"/></g><g fill="#EC5C42"></g><g fill="none" stroke="#0000FF" stroke-width="1.1"><circle cx="106.06" cy="313.3" r="3.4"/><circle cx="126.98" cy="313.3" r="8.1"/><circle cx="158.36" cy="313.3" r="7.3"/><circle cx="168.82" cy="313.3" r="7.1"/><circle cx="179.28" cy="313.3" r="2.4"/><circle cx="242.04" cy="313.3" r="7.6"/><circle cx="252.5" cy="313.3" r="2.4"/><circle cx="262.96" cy="313.3" r="7.2"/><circle cx="273.42" cy="313.3" r="2.4"/><circle cx="283.88" cy="313.3" r="6.5"/><circle cx="304.8" cy="313.3" r="4"/><circle cx="325.72" cy="313.3" r="13.4"/><circle cx="336.18" cy="313.3" r="9.4"/></g><rect x="63.5" y="15.6" width="305" height="320.9" fill="none" stroke="#000" stroke-opacity="0.8" stroke-width="1" stroke-linejoin="round"/><path d="M95.6 336.5H357.1M63.5 313.3V38.98" stroke="#000" stroke-opacity="0.8" stroke-width="1" fill="none"/><path d="M95.6 336.5V344.8M147.9 336.5V344.8M200.2 336.5V344.8M252.5 336.5V344.8M304.8 336.5V344.8M357.1 336.5V344.8M63.5 313.3H55M63.5 267.58H55M63.5 221.86H55M63.5 176.14H55M63.5 130.42H55M63.5 84.7H55M63.5 38.98H55" stroke="#000" stroke-opacity="0.94" stroke-width="1" fill="none"/><text x="95.6" y="365" font-size="20" text-anchor="middle" textLength="52" lengthAdjust="spacingAndGlyphs">1990</text><text x="200.2" y="365" font-size="20" text-anchor="middle" textLength="52" lengthAdjust="spacingAndGlyphs">2000</text><text x="304.8" y="365" font-size="20" text-anchor="middle" textLength="52" lengthAdjust="spacingAndGlyphs">2010</text><text x="216.5" y="380.7" font-size="20" text-anchor="middle" textLength="45" lengthAdjust="spacingAndGlyphs">year</text><text transform="translate(44.2,313.3) rotate(-90)" font-size="20" text-anchor="middle" textLength="11" lengthAdjust="spacingAndGlyphs">0</text><text transform="translate(44.2,267.58) rotate(-90)" font-size="20" text-anchor="middle" textLength="11" lengthAdjust="spacingAndGlyphs">2</text><text transform="translate(44.2,221.86) rotate(-90)" font-size="20" text-anchor="middle" textLength="11" lengthAdjust="spacingAndGlyphs">4</text><text transform="translate(44.2,176.14) rotate(-90)" font-size="20" text-anchor="middle" textLength="11" lengthAdjust="spacingAndGlyphs">6</text><text transform="translate(44.2,130.42) rotate(-90)" font-size="20" text-anchor="middle" textLength="11" lengthAdjust="spacingAndGlyphs">8</text><text transform="translate(44.2,84.7) rotate(-90)" font-size="20" text-anchor="middle" textLength="24" lengthAdjust="spacingAndGlyphs">10</text><text transform="translate(44.2,38.98) rotate(-90)" font-size="20" text-anchor="middle" textLength="24" lengthAdjust="spacingAndGlyphs">12</text><text transform="translate(28.9,176.6) rotate(-90)" font-size="20" text-anchor="middle" textLength="39" lengthAdjust="spacingAndGlyphs">Age</text><text x="216" y="13.5" font-size="16" font-weight="bold" text-anchor="middle" textLength="142.9" lengthAdjust="spacingAndGlyphs">Survey 7 (BarO)</text></g>
<g transform="translate(800,800)"><g fill="#EC5C42" stroke="#EC5C42" stroke-width="0.6" shape-rendering="crispEdges"><circle cx="85.14" cy="176.14" r="2.8"/><circle cx="106.06" cy="176.14" r="9.6"/><circle cx="116.52" cy="176.14" r="12.8"/><circle cx="137.44" cy="176.14" r="4.8"/><circle cx="147.9" cy="176.14" r="6.3"/><circle cx="158.36" cy="176.14" r="1.2"/><circle cx="189.74" cy="176.14" r="13"/><circle cx="200.2" cy="176.14" r="10.2"/><circle cx="304.8" cy="176.14" r="7.9"/></g><g fill="#EC5C42"><circle cx="74.68" cy="176.14" r="0.85"/></g><g fill="none" stroke="#0000FF" stroke-width="1.1"><circle cx="95.6" cy="176.14" r="5.6"/><circle cx="126.98" cy="176.14" r="6.1"/><circle cx="168.82" cy="176.14" r="9.4"/><circle cx="210.66" cy="176.14" r="7.4"/><circle cx="221.12" cy="176.14" r="0.8"/><circle cx="242.04" cy="176.14" r="4.3"/><circle cx="252.5" cy="176.14" r="7.2"/><circle cx="262.96" cy="176.14" r="9.4"/><circle cx="273.42" cy="176.14" r="7.2"/><circle cx="283.88" cy="176.14" r="8.7"/><circle cx="315.26" cy="176.14" r="7"/><circle cx="325.72" cy="176.14" r="7.5"/><circle cx="336.18" cy="176.14" r="8.7"/><circle cx="346.64" cy="176.14" r="9.4"/></g><rect x="63.5" y="15.6" width="305" height="320.9" fill="none" stroke="#000" stroke-opacity="0.8" stroke-width="1" stroke-linejoin="round"/><path d="M95.6 336.5H357.1M63.5 313.3V38.98" stroke="#000" stroke-opacity="0.8" stroke-width="1" fill="none"/><path d="M95.6 336.5V344.8M147.9 336.5V344.8M200.2 336.5V344.8M252.5 336.5V344.8M304.8 336.5V344.8M357.1 336.5V344.8M63.5 313.3H55M63.5 267.58H55M63.5 221.86H55M63.5 176.14H55M63.5 130.42H55M63.5 84.7H55M63.5 38.98H55" stroke="#000" stroke-opacity="0.94" stroke-width="1" fill="none"/><text x="95.6" y="365" font-size="20" text-anchor="middle" textLength="52" lengthAdjust="spacingAndGlyphs">1990</text><text x="200.2" y="365" font-size="20" text-anchor="middle" textLength="52" lengthAdjust="spacingAndGlyphs">2000</text><text x="304.8" y="365" font-size="20" text-anchor="middle" textLength="52" lengthAdjust="spacingAndGlyphs">2010</text><text x="216.5" y="380.7" font-size="20" text-anchor="middle" textLength="45" lengthAdjust="spacingAndGlyphs">year</text><text transform="translate(44.2,313.3) rotate(-90)" font-size="20" text-anchor="middle" textLength="11" lengthAdjust="spacingAndGlyphs">0</text><text transform="translate(44.2,267.58) rotate(-90)" font-size="20" text-anchor="middle" textLength="11" lengthAdjust="spacingAndGlyphs">2</text><text transform="translate(44.2,221.86) rotate(-90)" font-size="20" text-anchor="middle" textLength="11" lengthAdjust="spacingAndGlyphs">4</text><text transform="translate(44.2,176.14) rotate(-90)" font-size="20" text-anchor="middle" textLength="11" lengthAdjust="spacingAndGlyphs">6</text><text transform="translate(44.2,130.42) rotate(-90)" font-size="20" text-anchor="middle" textLength="11" lengthAdjust="spacingAndGlyphs">8</text><text transform="translate(44.2,84.7) rotate(-90)" font-size="20" text-anchor="middle" textLength="24" lengthAdjust="spacingAndGlyphs">10</text><text transform="translate(44.2,38.98) rotate(-90)" font-size="20" text-anchor="middle" textLength="24" lengthAdjust="spacingAndGlyphs">12</text><text transform="translate(28.9,176.6) rotate(-90)" font-size="20" text-anchor="middle" textLength="39" lengthAdjust="spacingAndGlyphs">Age</text><text x="216" y="13.5" font-size="16" font-weight="bold" text-anchor="middle" textLength="159.6" lengthAdjust="spacingAndGlyphs">Survey 8 (Larvae)</text></g>
</svg></body></html>
